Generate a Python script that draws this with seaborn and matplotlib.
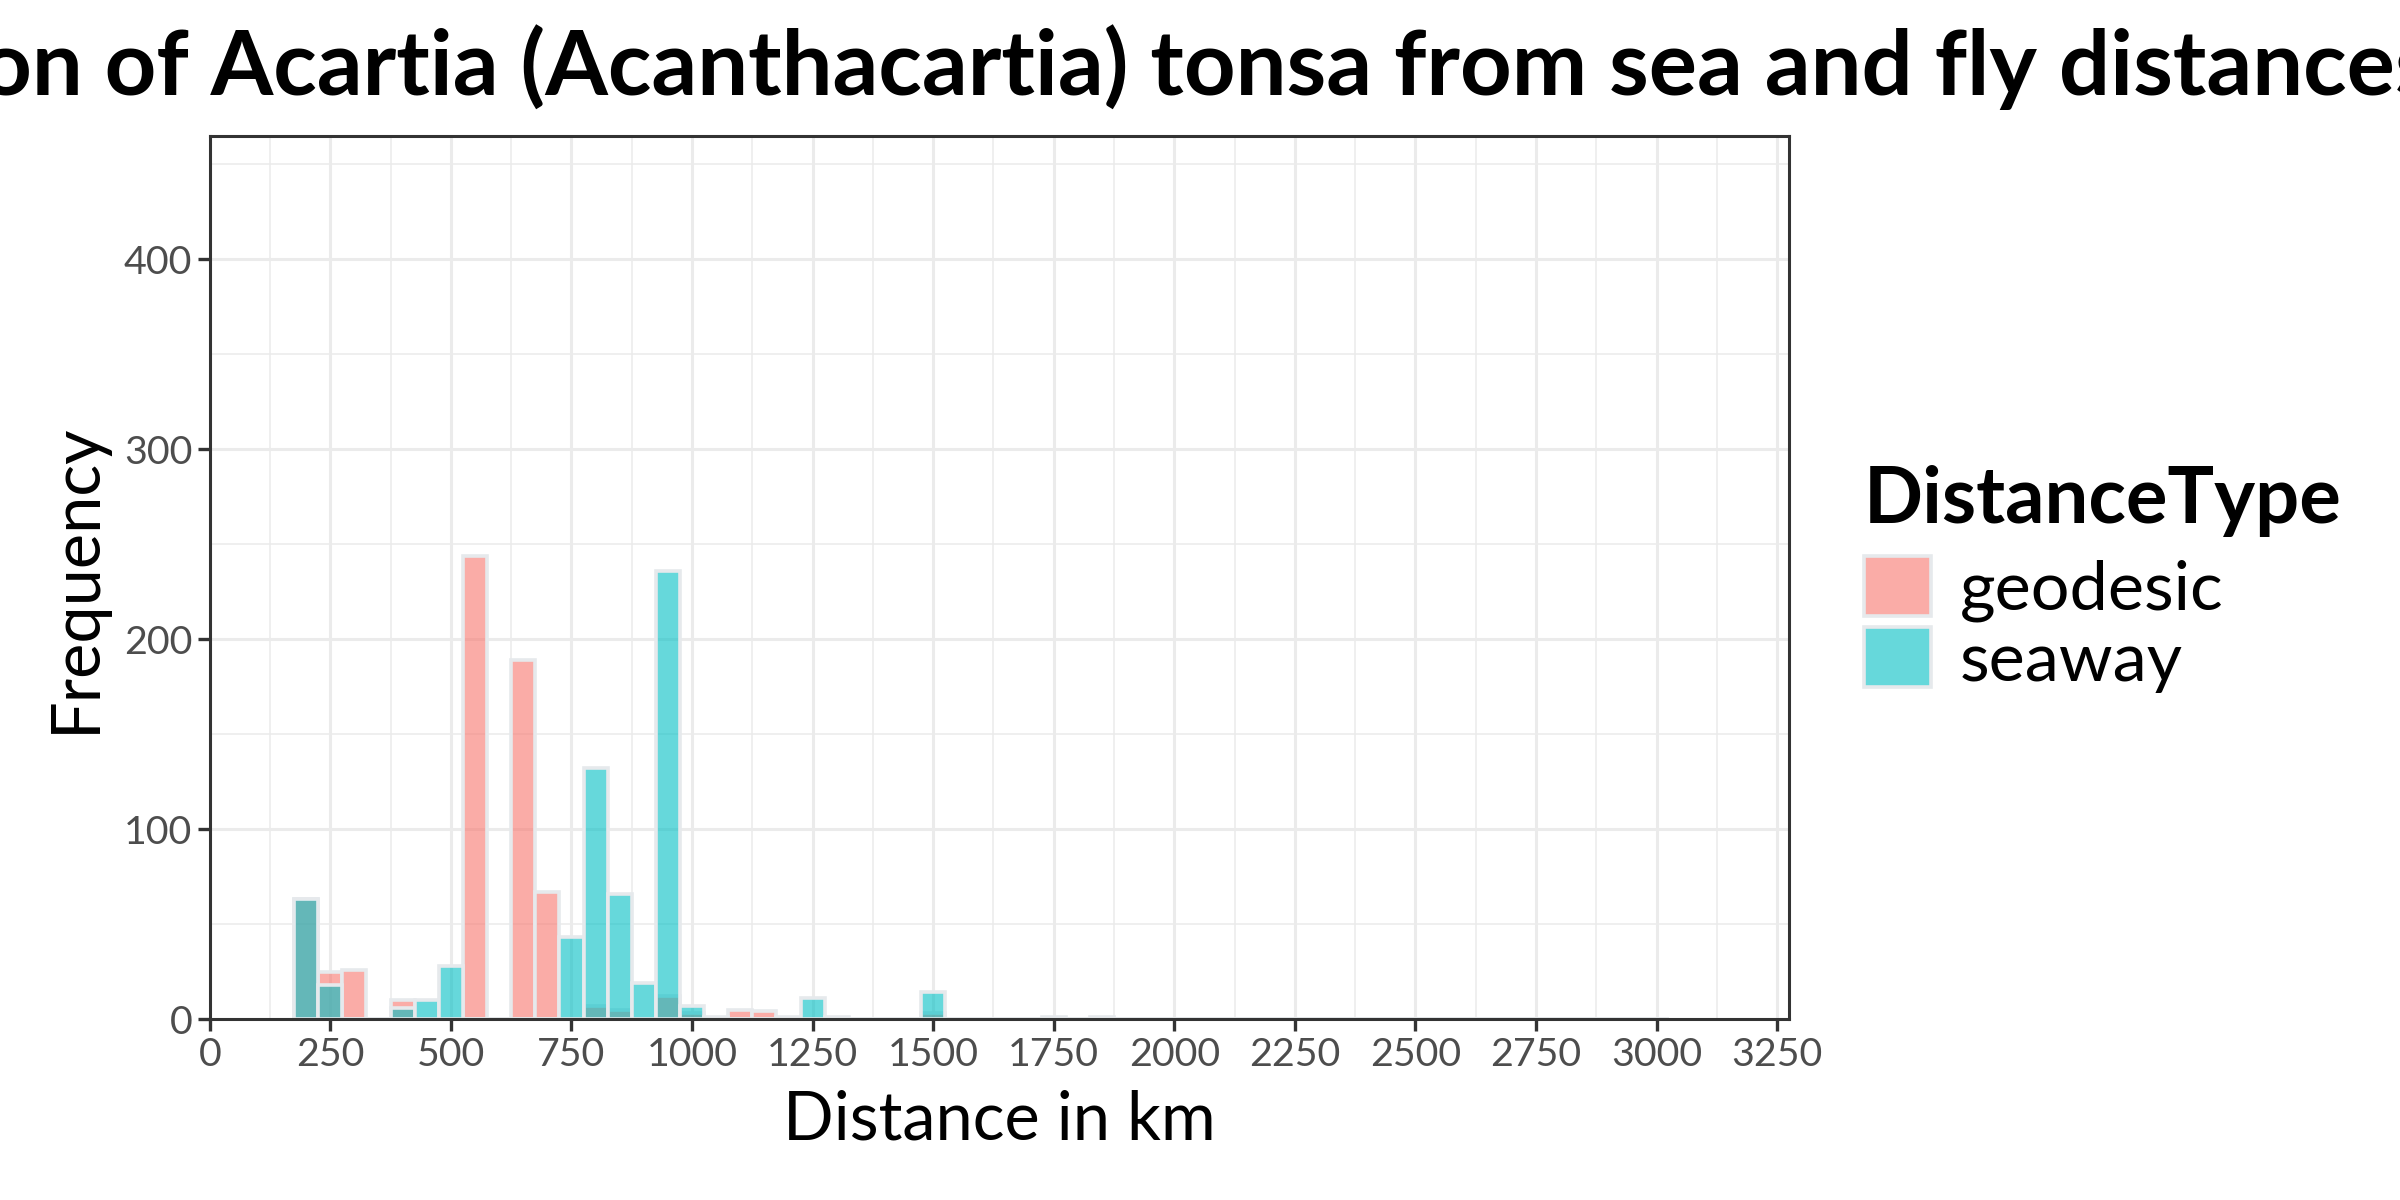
import matplotlib
matplotlib.use("Agg")
import matplotlib.pyplot as plt
import numpy as np
import pandas as pd
import seaborn as sns
from matplotlib.patches import Patch

# histogram counts (bin width 50 km, labelled by bin centre)
BIN_CENTRES = [200, 250, 300, 350, 400, 450, 500, 550, 600, 650, 700, 750, 800, 850, 900, 950,
               1000, 1050, 1100, 1150, 1200, 1250, 1300, 1350, 1400, 1450, 1500, 1550, 1600, 1650,
               1700, 1750, 1800, 1850]
GEODESIC = [63, 25, 26, 0, 10, 0, 0, 244, 0, 189, 67, 0, 7, 5, 0, 12,
            3, 0, 5, 4, 0, 0, 0, 0, 0, 0, 3, 0, 0, 0,
            0, 0, 0, 0]
SEAWAY = [63, 18, 0, 0, 6, 10, 28, 0, 0, 0, 0, 43, 132, 66, 19, 236,
          7, 1, 0, 0, 1, 11, 1, 0, 0, 0, 14, 0, 0, 0,
          0, 1, 0, 1]
TYPES = ["geodesic", "seaway"]
COLORS = {"geodesic": "#F8766D", "seaway": "#00BFC4"}
X_BREAKS = list(range(0, 3251, 250))
Y_BREAKS = [0, 100, 200, 300, 400]

TITLE = "Distribution of Acartia (Acanthacartia) tonsa from sea and fly distances"
EDGE = "#E6E9EC"
ALPHA = 0.6


def main() -> None:
    sns.set_theme(style="white")
    plt.rcParams["font.family"] = ["Lato", "DejaVu Sans"]
    plt.rcParams["text.color"] = "black"
    plt.rcParams["axes.labelcolor"] = "black"

    df = pd.DataFrame({
        "centre": BIN_CENTRES * 2,
        "count": GEODESIC + SEAWAY,
        "DistanceType": [TYPES[0]] * len(BIN_CENTRES) + [TYPES[1]] * len(BIN_CENTRES),
    })
    edges = [float(e) for e in np.arange(175, 3025 + 1, 50)]

    fig = plt.figure(figsize=(12, 6), dpi=200)
    ax = fig.add_axes([0.0874, 0.1508, 0.6581, 0.7359])

    for t in TYPES:
        sub = df[df["DistanceType"] == t]
        sns.histplot(data=sub, x="centre", weights="count", bins=edges, color=COLORS[t],
                     element="bars", ax=ax, legend=False, zorder=3)
    for p in ax.patches:
        fc = p.get_facecolor()
        p.set_alpha(None)
        p.set_facecolor((*fc[:3], ALPHA))
        p.set_edgecolor(EDGE)
        p.set_linewidth(1.3)

    ax.set_xlim(0, 3275)
    ax.set_ylim(0, 465)
    ax.set_xticks(X_BREAKS)
    ax.set_xticks(np.arange(125, 3275, 250), minor=True)
    ax.set_yticks(Y_BREAKS)
    ax.set_yticks([50, 150, 250, 350, 450], minor=True)
    ax.grid(True, which="major", color="#EBEBEB", linewidth=1.1)
    ax.grid(True, which="minor", color="#EBEBEB", linewidth=0.55)
    ax.set_axisbelow(True)
    for spine in ax.spines.values():
        spine.set_color("#333333")
        spine.set_linewidth(1.1)
        spine.set_zorder(5)
    ax.tick_params(which="major", direction="out", length=4.3, width=1.2, color="#333333",
                   labelsize=14.2, labelcolor="#4D4D4D", pad=2, bottom=True, left=True)
    ax.tick_params(which="minor", length=0)

    ax.set_xlabel("Distance in km", fontsize=24, labelpad=6)
    ax.set_ylabel("Frequency", fontsize=24, labelpad=6)
    fig.text(0.424, 0.921, TITLE, fontsize=32.5, fontweight="bold", ha="center", va="baseline")

    # legend: title drawn as its own text so the gap above the keys can match
    fig.text(0.7767, 0.564, "DistanceType", fontsize=28, fontweight="bold",
             ha="left", va="baseline")
    handles = [Patch(facecolor=(*matplotlib.colors.to_rgb(COLORS[t]), ALPHA), edgecolor=EDGE,
                     linewidth=1.3, label=t) for t in TYPES]
    fig.legend(handles=handles, loc="upper left", bbox_to_anchor=(0.7767, 0.537),
               frameon=False, fontsize=24.6, handlelength=0.98, handleheight=0.98,
               labelspacing=0.08, handletextpad=0.42, borderaxespad=0, borderpad=0)

    fig.savefig("out.png", dpi=200, facecolor="white")
    plt.close(fig)


if __name__ == "__main__":
    main()
